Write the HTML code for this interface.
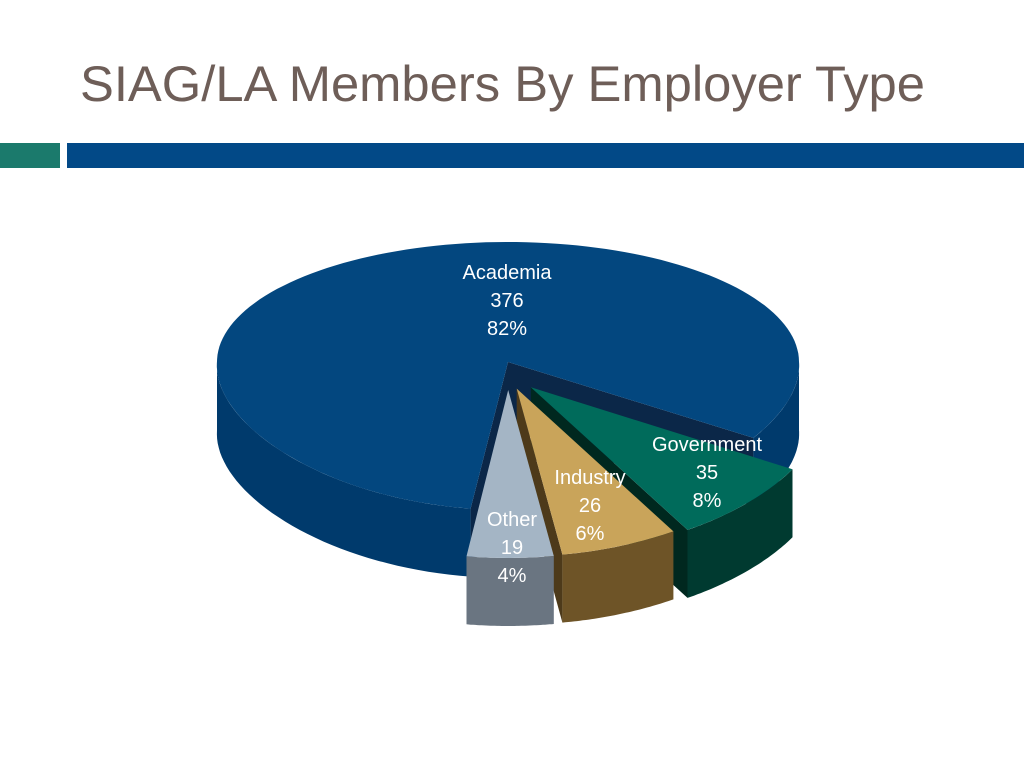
<!DOCTYPE html>
<html><head><meta charset="utf-8"><style>
html,body{margin:0;padding:0;background:#fff;}
svg{display:block;}
</style></head><body>
<svg id="chart" width="1024" height="768" viewBox="0 0 1024 768" xmlns="http://www.w3.org/2000/svg">
<rect width="1024" height="768" fill="#fff"/>
<text x="80" y="101" font-family="Liberation Sans, sans-serif" font-size="50" fill="#6e5e58" textLength="845" lengthAdjust="spacingAndGlyphs">SIAG/LA Members By Employer Type</text>
<rect x="0" y="143" width="60" height="25" fill="#1b7a6c"/>
<rect x="67" y="143" width="957" height="25" fill="#024987"/>
<g id="pie"></g>
</svg>
<script>
const categories = ["Academia", "Government", "Industry", "Other"];
const values = [376, 35, 26, 19];
const percentLabels = ["82%", "8%", "6%", "4%"];
const explodeFlags = [0, 1, 1, 1];

const topColors = ["#03477f", "#006b5b", "#c9a45a", "#a4b5c5"];
const wallColors = ["#003a6c", "#003a30", "#6e5427", "#6a7581"];
const innerColors = ["#0b2748", "#00281f", "#4d3a1a", "#4e5762"];
const labelPos = [[507,272],[707,444],[590,477],[512,519]];

const CX = 508, CY = 362, RXB = 291, RYB = 120, DEPTH = 68, START = 34;
const svgNS = "http://www.w3.org/2000/svg";
const pie = document.getElementById("pie");
const rad = d => d*Math.PI/180;
function rim(t, off, rxf, ryf){
  const s = Math.sin(rad(t)), c = Math.cos(rad(t));
  const f = Math.max(0, s);
  const rx = RXB + (rxf-RXB)*f, ry = RYB + (ryf-RYB)*f;
  return [CX + off[0] + rx*c, CY + off[1] + ry*s];
}
function poly(pts, fill, name){
  const p = document.createElementNS(svgNS, "path");
  p.setAttribute("d", "M" + pts.map(q => q[0].toFixed(1)+","+q[1].toFixed(1)).join("L") + "Z");
  p.setAttribute("fill", fill);
  
  
  pie.appendChild(p);
}
const total = values.reduce((a,b)=>a+b,0);
const slices = [];
let a0 = START;
const others = [];
for (let i=1;i<values.length;i++){ const sw = values[i]/total*360; others.push({i, s:a0, e:a0+sw}); a0 += sw; }
slices.push({i:0, s:a0, e:START+360});
others.forEach(o => slices.push(o));

slices.forEach(sl => {
  const i = sl.i, m = (sl.s+sl.e)/2;
  const ex = explodeFlags[i] ? (m < 55 ? 34 : 28) : 0;
  const off = [ex*Math.cos(rad(m)), ex*Math.sin(rad(m))];
  const rxf = explodeFlags[i] ? 335 : 300;
  const ryf = explodeFlags[i] ? 168 : 148;
  const R = t => rim(t, off, rxf, ryf);
  const apex = [CX+off[0], CY+off[1]];
  const down = p => [p[0], p[1]+DEPTH];
  [[sl.s, -90], [sl.e, 90]].forEach(([t, n]) => {
    if (Math.sin(rad(t+n)) > 0) {
      const r = R(t);
      poly([apex, r, down(r), down(apex)], innerColors[i], categories[i].toLowerCase()+"-radial-wall");
    }
  });
  for (let k=0;k<2;k++){
    const lo = Math.max(sl.s, k*360), hi = Math.min(sl.e, k*360+180);
    if (hi > lo) {
      const topPts = [], botPts = [];
      for (let j=0;j<=40;j++){ const r = R(lo+(hi-lo)*j/40); topPts.push(r); botPts.push(down(r)); }
      poly(topPts.concat(botPts.reverse()), wallColors[i], categories[i].toLowerCase()+"-outer-wall");
    }
  }
  const pts = [apex];
  const n = Math.max(8, Math.round((sl.e-sl.s)/2));
  for (let k=0;k<=n;k++) pts.push(R(sl.s + (sl.e-sl.s)*k/n));
  poly(pts, topColors[i], "slice-"+categories[i].toLowerCase());
});

categories.forEach((c, i) => {
  const lines = [c, String(values[i]), percentLabels[i]];
  lines.forEach((t, k) => {
    const tx = document.createElementNS(svgNS, "text");
    tx.setAttribute("x", labelPos[i][0]);
    tx.setAttribute("y", labelPos[i][1] + 28*k + 7);
    tx.setAttribute("text-anchor", "middle");
    tx.setAttribute("font-family", "Liberation Sans, sans-serif");
    tx.setAttribute("font-size", "20");
    tx.setAttribute("fill", "#ffffff");
    
    
    tx.textContent = t;
    document.getElementById("chart").appendChild(tx);
  });
});
</script>
</body></html>
